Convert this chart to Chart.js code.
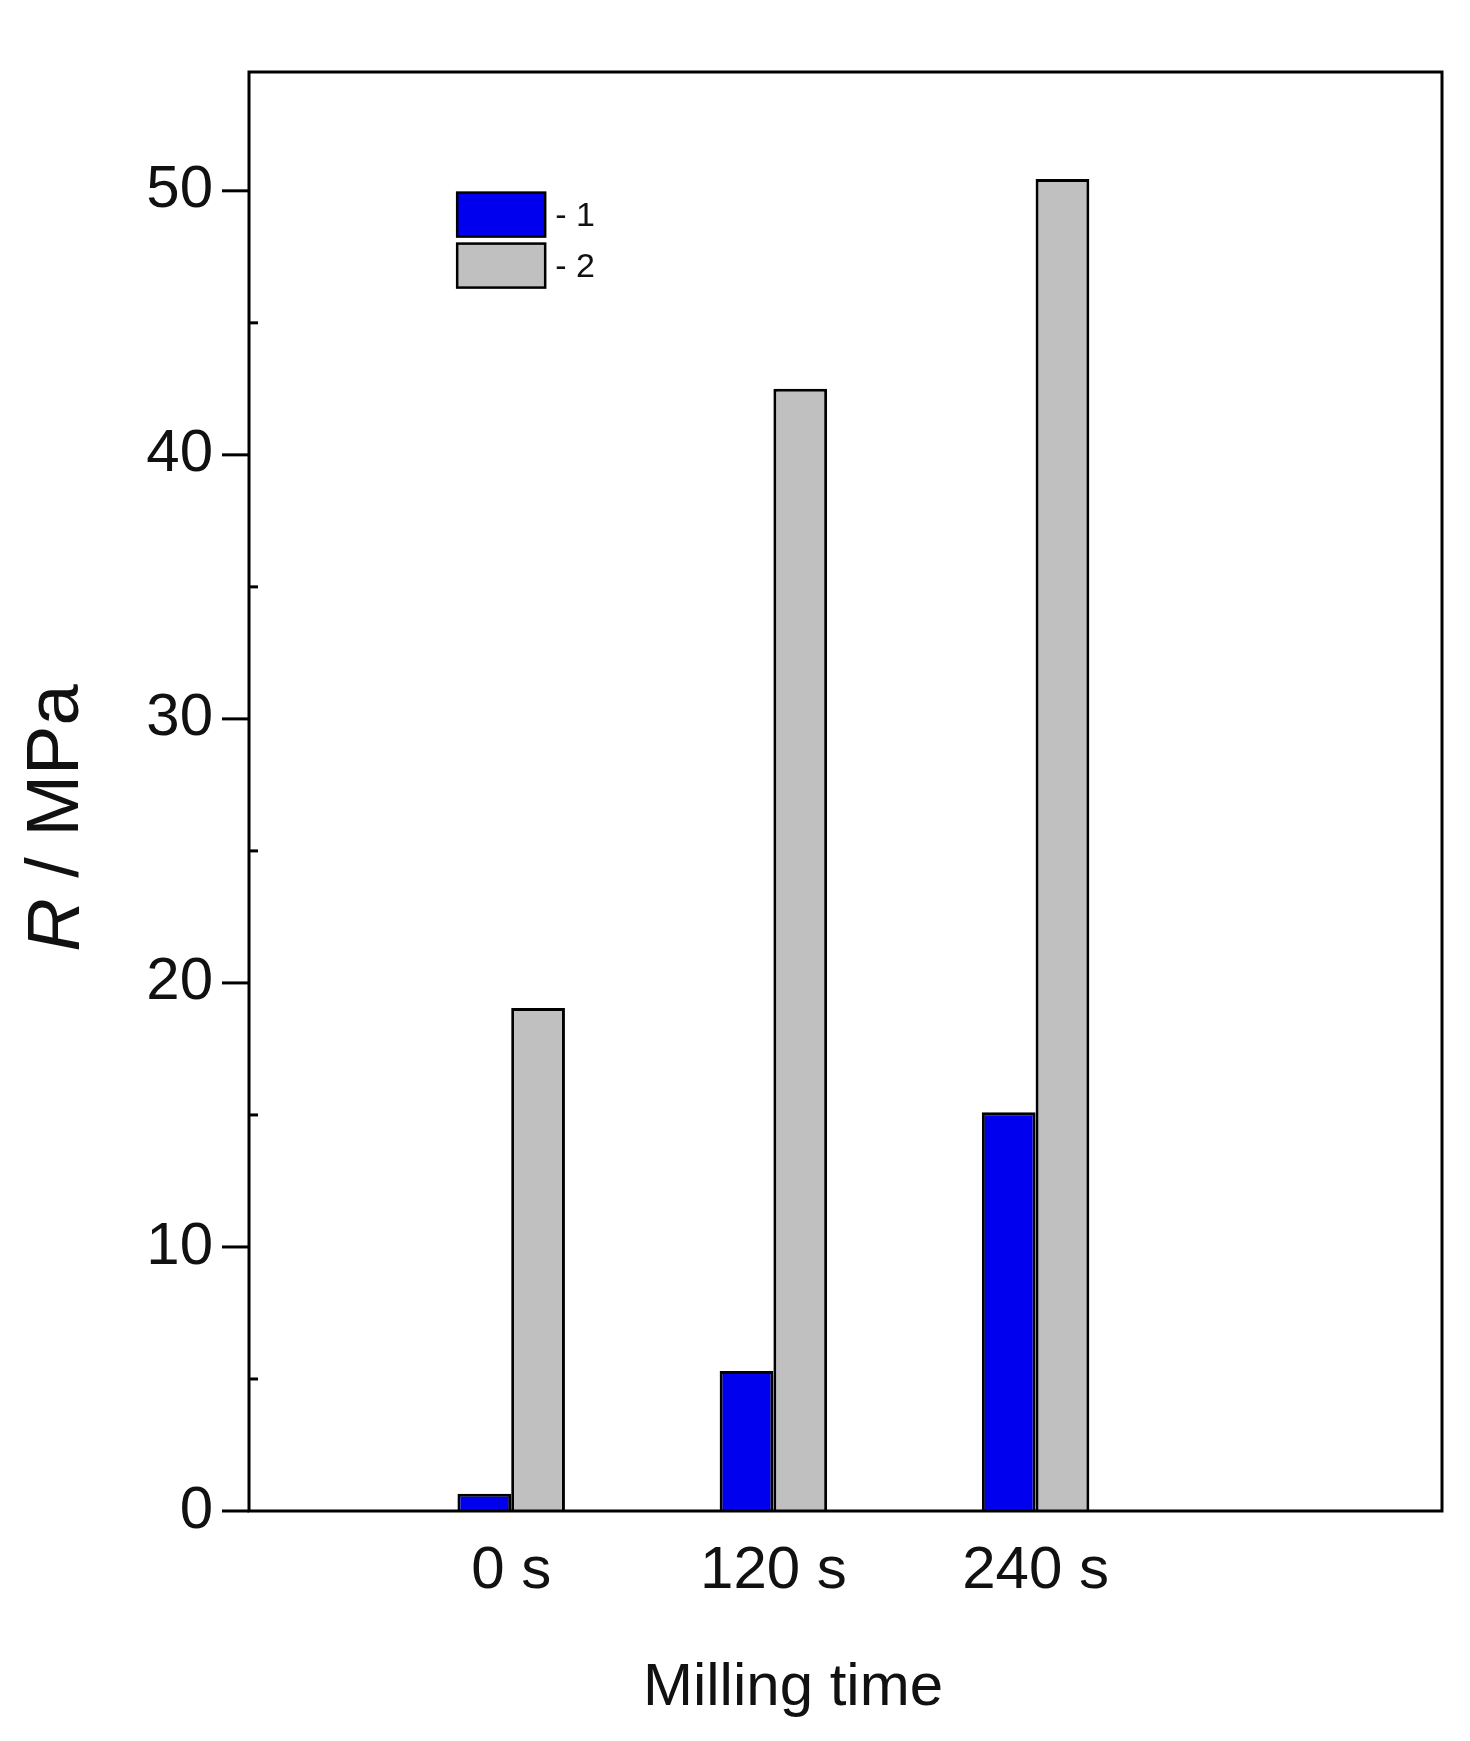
<!DOCTYPE html>
<html lang="en">
<head>
    <meta charset="UTF-8">
    <title>Milling time</title>
    <style>
        html, body { margin: 0; padding: 0; background: #fff; }
        #wrap { width: 1470px; height: 1741px; }
    </style>
    <script src="https://cdn.jsdelivr.net/npm/chart.js"></script>
</head>
<body>
    <div id="wrap"><canvas id="chart"></canvas></div>
    <script>
        // data
        const categories = ['0 s', '120 s', '240 s'];
        const positions = [1, 2, 3];
        const series1 = [0.65, 5.3, 15.1];
        const series2 = [19.05, 42.5, 50.45];
        const seriesNames = ['- 1', '- 2'];
        const yTicks = [0, 10, 20, 30, 40, 50];
        const yMinor = [5, 15, 25, 35, 45];

        const FONT = 'Arial, "Liberation Sans", sans-serif';

        // box, ticks, axis titles and the inset legend
        const decor = {
            id: 'decor',
            afterDraw(chart) {
                const { ctx, chartArea: a, scales: { y } } = chart;
                ctx.save();
                ctx.strokeStyle = '#000';
                ctx.lineWidth = 3;
                ctx.strokeRect(a.left, a.top, a.right - a.left, a.bottom - a.top);
                yTicks.forEach(v => {
                    const py = y.getPixelForValue(v);
                    ctx.beginPath(); ctx.moveTo(a.left - 27, py); ctx.lineTo(a.left, py); ctx.stroke();
                });
                yMinor.forEach(v => {
                    const py = y.getPixelForValue(v);
                    ctx.beginPath(); ctx.moveTo(a.left, py); ctx.lineTo(a.left + 9, py); ctx.stroke();
                });

                // y title
                ctx.fillStyle = '#111';
                ctx.save();
                ctx.translate(58, 818);
                ctx.rotate(-Math.PI / 2);
                ctx.textBaseline = 'middle';
                ctx.font = 'italic 74px ' + FONT;
                const rw = ctx.measureText('R').width;
                ctx.font = '74px ' + FONT;
                const restW = ctx.measureText(' / MPa').width;
                let x0 = -(rw + restW) / 2;
                ctx.font = 'italic 74px ' + FONT;
                ctx.fillText('R', x0, 0);
                ctx.font = '74px ' + FONT;
                ctx.fillText(' / MPa', x0 + rw, 0);
                ctx.restore();

                // x title
                ctx.font = '60px ' + FONT;
                ctx.textAlign = 'center';
                ctx.textBaseline = 'middle';
                ctx.fillText('Milling time', 793, 1688);

                // legend
                const w = (a.right - a.left), h = (a.bottom - a.top);
                const lx = a.left + w * 0.1745, ly = a.top + h * 0.0838;
                const bw = 88, bh = 44;
                [chart.data.datasets[0], chart.data.datasets[1]].forEach((ds, i) => {
                    const yy = ly + i * 51;
                    ctx.fillStyle = ds.backgroundColor;
                    ctx.fillRect(lx, yy, bw, bh);
                    ctx.lineWidth = 2.5;
                    ctx.strokeRect(lx, yy, bw, bh);
                    ctx.fillStyle = '#111';
                    ctx.font = '34px ' + FONT;
                    ctx.textAlign = 'left';
                    ctx.fillText(seriesNames[i], lx + bw + 10, yy + bh / 2 + 2);
                });
                ctx.restore();
            }
        };

        new Chart(document.getElementById('chart'), {
            type: 'bar',
            data: {
                datasets: [{
                    data: positions.map((p, i) => ({ x: p, y: series1[i] })),
                    backgroundColor: '#0000ee',
                    borderColor: '#000',
                    borderWidth: 3,
                    borderSkipped: 'bottom'
                }, {
                    data: positions.map((p, i) => ({ x: p, y: series2[i] })),
                    backgroundColor: '#c0c0c0',
                    borderColor: '#000',
                    borderWidth: 3,
                    borderSkipped: 'bottom'
                }]
            },
            options: {
                responsive: true,
                maintainAspectRatio: false,
                animation: false,
                categoryPercentage: 0.41,
                barPercentage: 1,
                layout: { padding: { top: -13, right: 28, left: 0, bottom: 0 } },
                plugins: { legend: { display: false }, tooltip: { enabled: false } },
                scales: {
                    x: {
                        type: 'linear',
                        min: 0, max: 4.55,
                        offset: false,
                        grid: { display: false, drawTicks: false },
                        border: { display: false },
                        afterBuildTicks: s => { s.ticks = positions.map(v => ({ value: v })); },
                        afterFit: s => { s.height = 230; },
                        ticks: {
                            padding: 24,
                            color: '#111',
                            font: { size: 60, family: FONT },
                            callback: v => categories[positions.indexOf(v)] || ''
                        }
                    },
                    y: {
                        min: 0, max: 54.5,
                        grid: { display: false, drawTicks: false },
                        border: { display: false },
                        afterBuildTicks: s => { s.ticks = yTicks.map(v => ({ value: v })); },
                        afterFit: s => { s.width = 249; },
                        ticks: {
                            padding: 36,
                            color: '#111',
                            font: { size: 60, family: FONT }
                        }
                    }
                }
            },
            plugins: [decor]
        });
    </script>
</body>
</html>
